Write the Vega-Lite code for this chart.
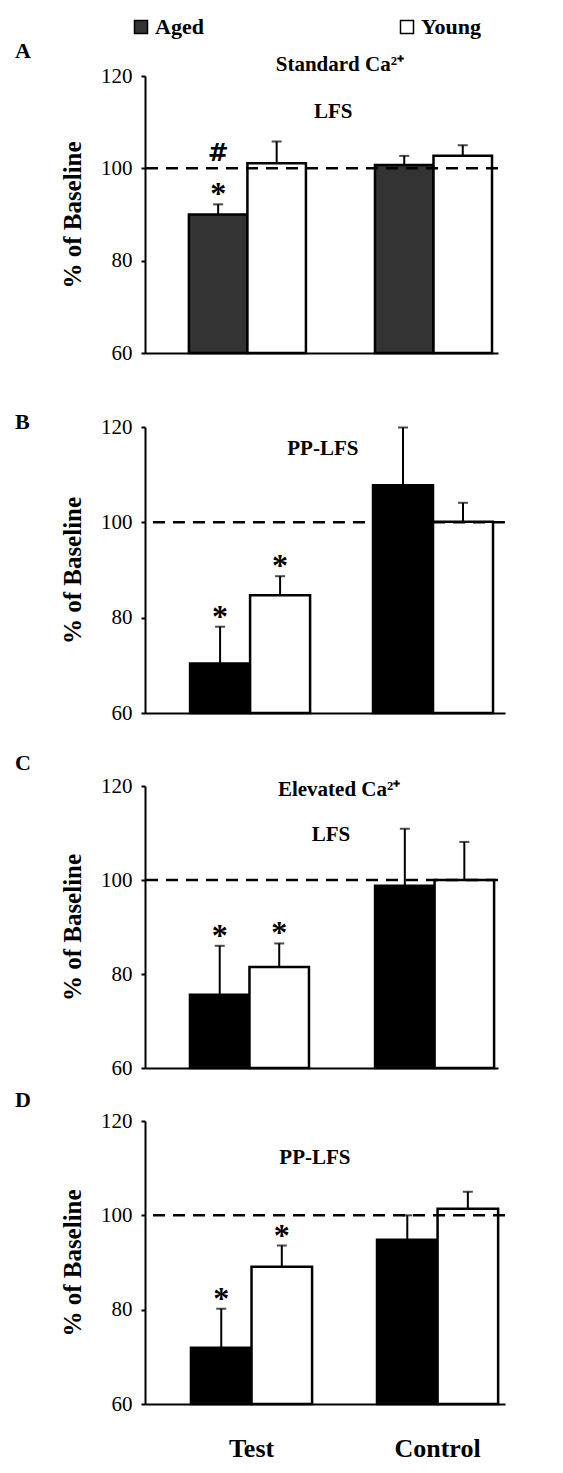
{
  "$schema": "https://vega.github.io/schema/vega-lite/v6.json",
  "background": "white",
  "padding": {"left": 15, "top": 16, "right": 5, "bottom": 5},
  "config": {
    "view": {"stroke": null},
    "font": "Liberation Serif",
    "axis": {"domainColor": "black", "domainWidth": 2, "tickColor": "black", "tickWidth": 2, "grid": false, "labelColor": "black", "titleColor": "black", "labelFont": "Liberation Serif", "titleFont": "Liberation Serif"},
    "axisY": {"tickSize": 4, "labelFontSize": 21, "labelPadding": 9, "titleFontSize": 25, "titleFontWeight": "bold", "titlePadding": 15, "labelFlush": false},
    "axisX": {"ticks": false, "tickSize": 0, "labelAngle": 0}
  },
  "datasets": {
    "A": [
      {"cond": "Test", "group": "Aged", "value": 90.0, "upper": 92.2, "sig": "*", "hash": "#"},
      {"cond": "Test", "group": "Young", "value": 101.1, "upper": 105.8},
      {"cond": "Control", "group": "Aged", "value": 100.7, "upper": 102.7},
      {"cond": "Control", "group": "Young", "value": 102.7, "upper": 105.0}
    ],
    "B": [
      {"cond": "Test", "group": "Aged", "value": 70.4, "upper": 78.1, "sig": "*"},
      {"cond": "Test", "group": "Young", "value": 84.7, "upper": 88.7, "sig": "*"},
      {"cond": "Control", "group": "Aged", "value": 107.8, "upper": 119.9},
      {"cond": "Control", "group": "Young", "value": 100.1, "upper": 104.1}
    ],
    "C": [
      {"cond": "Test", "group": "Aged", "value": 75.6, "upper": 86.0, "sig": "*"},
      {"cond": "Test", "group": "Young", "value": 81.5, "upper": 86.5, "sig": "*"},
      {"cond": "Control", "group": "Aged", "value": 98.8, "upper": 110.9},
      {"cond": "Control", "group": "Young", "value": 100.0, "upper": 108.1}
    ],
    "D": [
      {"cond": "Test", "group": "Aged", "value": 71.9, "upper": 80.2, "sig": "*"},
      {"cond": "Test", "group": "Young", "value": 89.1, "upper": 93.6, "sig": "*"},
      {"cond": "Control", "group": "Aged", "value": 94.8, "upper": 100.0},
      {"cond": "Control", "group": "Young", "value": 101.4, "upper": 105.0}
    ]
  },
  "spacing": 47,
  "resolve": {"scale": {"x": "independent", "y": "independent", "xOffset": "independent", "color": "independent"}, "legend": {"color": "independent"}},
  "vconcat": [
    {
      "width": 353, "height": 277,
      "data": {"name": "A"},
      "title": {"text": "A", "orient": "top", "anchor": "start", "frame": "group", "baseline": "alphabetic", "offset": -64, "dx": -130, "font": "Liberation Serif", "fontSize": 22, "fontWeight": "bold", "color": "black"},
      "resolve": {"scale": {"x": "independent"}},
      "layer": [
        {"layer": [
          {"mark": {"type": "bar", "stroke": "black", "strokeWidth": 2.5},
           "encoding": {
             "x": {"field": "cond", "type": "nominal", "sort": ["Test", "Control"], "scale": {"paddingInner": 0.371, "paddingOuter": 0.134, "align": 0.88}, "axis": {"title": null, "labels": false, "ticks": false}},
             "xOffset": {"field": "group", "type": "nominal", "sort": ["Aged", "Young"], "scale": {"paddingInner": 0, "paddingOuter": 0}},
             "y": {"field": "value", "type": "quantitative", "scale": {"domain": [60, 120], "nice": false, "zero": false}, "axis": {"values": [60, 80, 100, 120], "title": "% of Baseline", "labelFont": "Liberation Serif", "titleFont": "Liberation Serif", "labelFontSize": 21, "titleFontSize": 25, "titleFontWeight": "bold"}},
             "y2": {"datum": 60},
             "color": {"field": "group", "type": "nominal", "scale": {"domain": ["Aged", "Young"], "range": ["#333333", "#ffffff"]},
               "legend": {"orient": "none", "legendX": -15, "legendY": -60, "direction": "horizontal", "columns": 2, "columnPadding": 192, "title": null, "symbolType": "square", "symbolSize": 169, "symbolStrokeColor": "black", "symbolStrokeWidth": 1.5, "symbolOpacity": 1, "labelFont": "Liberation Serif", "labelFontSize": 22, "labelFontWeight": "bold", "labelColor": "black", "labelOffset": 3, "padding": 0, "offset": 0}}
           }},
          {"mark": {"type": "rule", "color": "black", "strokeWidth": 2},
           "encoding": {"x": {"field": "cond", "type": "nominal", "sort": ["Test", "Control"]}, "xOffset": {"field": "group", "type": "nominal", "sort": ["Aged", "Young"]}, "y": {"field": "value", "type": "quantitative"}, "y2": {"field": "upper"}}},
          {"mark": {"type": "tick", "color": "black", "thickness": 2, "size": 10, "orient": "horizontal"},
           "encoding": {"x": {"field": "cond", "type": "nominal", "sort": ["Test", "Control"]}, "xOffset": {"field": "group", "type": "nominal", "sort": ["Aged", "Young"]}, "y": {"field": "upper", "type": "quantitative"}}},
          {"data": {"values": [{}]}, "mark": {"type": "rule", "color": "black", "strokeWidth": 2.5, "strokeDash": [12, 8]},
           "encoding": {"y": {"datum": 100}}},
          {"transform": [{"filter": "datum.sig"}], "mark": {"type": "text", "font": "Liberation Serif", "fontSize": 32, "fontWeight": "bold", "color": "black", "baseline": "alphabetic", "align": "center", "dy": 0},
           "encoding": {"x": {"field": "cond", "type": "nominal", "sort": ["Test", "Control"]}, "xOffset": {"field": "group", "type": "nominal", "sort": ["Aged", "Young"]}, "y": {"field": "upper", "type": "quantitative"}, "text": {"field": "sig"}}},
          {"transform": [{"filter": "datum.hash"}], "mark": {"type": "text", "font": "DejaVu Sans", "fontSize": 25, "fontWeight": "bold", "color": "black", "baseline": "alphabetic", "align": "center", "dy": -43},
           "encoding": {"x": {"field": "cond", "type": "nominal", "sort": ["Test", "Control"]}, "xOffset": {"field": "group", "type": "nominal", "sort": ["Aged", "Young"]}, "y": {"field": "upper", "type": "quantitative"}, "text": {"field": "hash"}}}
        ]},
        {"data": {"values": [{}]}, "layer": [
          {"mark": {"type": "text", "text": "Standard Ca²⁺", "font": "Liberation Serif", "fontSize": 21, "fontWeight": "bold", "color": "black", "baseline": "middle", "align": "center"},
           "encoding": {"x": {"datum": 0.552, "type": "quantitative", "scale": {"domain": [0, 1], "nice": false, "zero": false}, "axis": null}, "y": {"datum": 122.4, "type": "quantitative"}}},
          {"mark": {"type": "text", "text": "LFS", "font": "Liberation Serif", "fontSize": 21, "fontWeight": "bold", "color": "black", "baseline": "middle", "align": "center"},
           "encoding": {"x": {"datum": 0.533, "type": "quantitative"}, "y": {"datum": 112.2, "type": "quantitative"}}}
        ]}
      ]
    },
    {
      "spacing": 28,
      "resolve": {"scale": {"x": "independent", "y": "independent", "xOffset": "independent", "color": "independent"}, "legend": {"color": "independent"}},
      "vconcat": [
        {
          "width": 360, "height": 286,
          "data": {"name": "B"},
          "title": {"text": "B", "orient": "top", "anchor": "start", "frame": "group", "baseline": "alphabetic", "offset": -34.5, "dx": -130, "font": "Liberation Serif", "fontSize": 22, "fontWeight": "bold", "color": "black"},
          "resolve": {"scale": {"x": "independent"}},
          "layer": [
            {"layer": [
              {"mark": {"type": "bar", "stroke": "black", "strokeWidth": 2.5},
               "encoding": {
                 "x": {"field": "cond", "type": "nominal", "sort": ["Test", "Control"], "scale": {"paddingInner": 0.344, "paddingOuter": 0.156, "align": 0.79}, "axis": {"title": null, "labels": false, "ticks": false}},
                 "xOffset": {"field": "group", "type": "nominal", "sort": ["Aged", "Young"], "scale": {"paddingInner": 0, "paddingOuter": 0}},
                 "y": {"field": "value", "type": "quantitative", "scale": {"domain": [60, 120], "nice": false, "zero": false}, "axis": {"values": [60, 80, 100, 120], "title": "% of Baseline", "labelFont": "Liberation Serif", "titleFont": "Liberation Serif", "labelFontSize": 21, "titleFontSize": 25, "titleFontWeight": "bold"}},
                 "y2": {"datum": 60},
                 "color": {"field": "group", "type": "nominal", "scale": {"domain": ["Aged", "Young"], "range": ["#000000", "#ffffff"]}, "legend": null}
               }},
              {"mark": {"type": "rule", "color": "black", "strokeWidth": 2},
               "encoding": {"x": {"field": "cond", "type": "nominal", "sort": ["Test", "Control"]}, "xOffset": {"field": "group", "type": "nominal", "sort": ["Aged", "Young"]}, "y": {"field": "value", "type": "quantitative"}, "y2": {"field": "upper"}}},
              {"mark": {"type": "tick", "color": "black", "thickness": 2, "size": 10, "orient": "horizontal"},
               "encoding": {"x": {"field": "cond", "type": "nominal", "sort": ["Test", "Control"]}, "xOffset": {"field": "group", "type": "nominal", "sort": ["Aged", "Young"]}, "y": {"field": "upper", "type": "quantitative"}}},
              {"data": {"values": [{}]}, "mark": {"type": "rule", "color": "black", "strokeWidth": 2.5, "strokeDash": [12, 8]},
               "encoding": {"y": {"datum": 100}}},
              {"transform": [{"filter": "datum.sig"}], "mark": {"type": "text", "font": "Liberation Serif", "fontSize": 32, "fontWeight": "bold", "color": "black", "baseline": "alphabetic", "align": "center", "dy": 0},
               "encoding": {"x": {"field": "cond", "type": "nominal", "sort": ["Test", "Control"]}, "xOffset": {"field": "group", "type": "nominal", "sort": ["Aged", "Young"]}, "y": {"field": "upper", "type": "quantitative"}, "text": {"field": "sig"}}}
            ]},
            {"data": {"values": [{}]}, "layer": [
              {"mark": {"type": "text", "text": "PP-LFS", "font": "Liberation Serif", "fontSize": 21, "fontWeight": "bold", "color": "black", "baseline": "middle", "align": "center"},
               "encoding": {"x": {"datum": 0.494, "type": "quantitative", "scale": {"domain": [0, 1], "nice": false, "zero": false}, "axis": null}, "y": {"datum": 115.4, "type": "quantitative"}}}
            ]}
          ]
        },
        {
          "spacing": 10,
          "resolve": {"scale": {"x": "independent", "y": "independent", "xOffset": "independent", "color": "independent"}, "legend": {"color": "independent"}},
          "vconcat": [
            {
              "width": 353, "height": 282,
              "data": {"name": "C"},
              "title": {"text": "C", "orient": "top", "anchor": "start", "frame": "group", "baseline": "alphabetic", "offset": -16.5, "dx": -130, "font": "Liberation Serif", "fontSize": 22, "fontWeight": "bold", "color": "black"},
              "resolve": {"scale": {"x": "independent"}},
              "layer": [
                {"layer": [
                  {"mark": {"type": "bar", "stroke": "black", "strokeWidth": 2.5},
                   "encoding": {
                     "x": {"field": "cond", "type": "nominal", "sort": ["Test", "Control"], "scale": {"paddingInner": 0.357, "paddingOuter": 0.132, "align": 0.92}, "axis": {"title": null, "labels": false, "ticks": false}},
                     "xOffset": {"field": "group", "type": "nominal", "sort": ["Aged", "Young"], "scale": {"paddingInner": 0, "paddingOuter": 0}},
                     "y": {"field": "value", "type": "quantitative", "scale": {"domain": [60, 120], "nice": false, "zero": false}, "axis": {"values": [60, 80, 100, 120], "title": "% of Baseline", "labelFont": "Liberation Serif", "titleFont": "Liberation Serif", "labelFontSize": 21, "titleFontSize": 25, "titleFontWeight": "bold"}},
                     "y2": {"datum": 60},
                     "color": {"field": "group", "type": "nominal", "scale": {"domain": ["Aged", "Young"], "range": ["#000000", "#ffffff"]}, "legend": null}
                   }},
                  {"mark": {"type": "rule", "color": "black", "strokeWidth": 2},
                   "encoding": {"x": {"field": "cond", "type": "nominal", "sort": ["Test", "Control"]}, "xOffset": {"field": "group", "type": "nominal", "sort": ["Aged", "Young"]}, "y": {"field": "value", "type": "quantitative"}, "y2": {"field": "upper"}}},
                  {"mark": {"type": "tick", "color": "black", "thickness": 2, "size": 10, "orient": "horizontal"},
                   "encoding": {"x": {"field": "cond", "type": "nominal", "sort": ["Test", "Control"]}, "xOffset": {"field": "group", "type": "nominal", "sort": ["Aged", "Young"]}, "y": {"field": "upper", "type": "quantitative"}}},
                  {"data": {"values": [{}]}, "mark": {"type": "rule", "color": "black", "strokeWidth": 2.5, "strokeDash": [12, 8]},
                   "encoding": {"y": {"datum": 100}}},
                  {"transform": [{"filter": "datum.sig"}], "mark": {"type": "text", "font": "Liberation Serif", "fontSize": 32, "fontWeight": "bold", "color": "black", "baseline": "alphabetic", "align": "center", "dy": 0},
                   "encoding": {"x": {"field": "cond", "type": "nominal", "sort": ["Test", "Control"]}, "xOffset": {"field": "group", "type": "nominal", "sort": ["Aged", "Young"]}, "y": {"field": "upper", "type": "quantitative"}, "text": {"field": "sig"}}}
                ]},
                {"data": {"values": [{}]}, "layer": [
                  {"mark": {"type": "text", "text": "Elevated Ca²⁺", "font": "Liberation Serif", "fontSize": 21, "fontWeight": "bold", "color": "black", "baseline": "middle", "align": "center"},
                   "encoding": {"x": {"datum": 0.55, "type": "quantitative", "scale": {"domain": [0, 1], "nice": false, "zero": false}, "axis": null}, "y": {"datum": 119.1, "type": "quantitative"}}},
                  {"mark": {"type": "text", "text": "LFS", "font": "Liberation Serif", "fontSize": 21, "fontWeight": "bold", "color": "black", "baseline": "middle", "align": "center"},
                   "encoding": {"x": {"datum": 0.527, "type": "quantitative"}, "y": {"datum": 109.6, "type": "quantitative"}}}
                ]}
              ]
            },
            {
              "width": 360, "height": 283,
              "data": {"name": "D"},
              "title": {"text": "D", "orient": "top", "anchor": "start", "frame": "group", "baseline": "alphabetic", "offset": -18.5, "dx": -130, "font": "Liberation Serif", "fontSize": 22, "fontWeight": "bold", "color": "black"},
              "resolve": {"scale": {"x": "independent"}},
              "layer": [
                {"layer": [
                  {"mark": {"type": "bar", "stroke": "black", "strokeWidth": 2.5},
                   "encoding": {
                     "x": {"field": "cond", "type": "nominal", "sort": ["Test", "Control"], "scale": {"paddingInner": 0.349, "paddingOuter": 0.142, "align": 0.87}, "axis": {"title": null, "labels": true, "ticks": false, "labelFont": "Liberation Serif", "labelFontSize": 26, "labelFontWeight": "bold", "labelColor": "black", "labelPadding": 44, "labelBaseline": "middle"}},
                     "xOffset": {"field": "group", "type": "nominal", "sort": ["Aged", "Young"], "scale": {"paddingInner": 0, "paddingOuter": 0}},
                     "y": {"field": "value", "type": "quantitative", "scale": {"domain": [60, 120], "nice": false, "zero": false}, "axis": {"values": [60, 80, 100, 120], "title": "% of Baseline", "labelFont": "Liberation Serif", "titleFont": "Liberation Serif", "labelFontSize": 21, "titleFontSize": 25, "titleFontWeight": "bold"}},
                     "y2": {"datum": 60},
                     "color": {"field": "group", "type": "nominal", "scale": {"domain": ["Aged", "Young"], "range": ["#000000", "#ffffff"]}, "legend": null}
                   }},
                  {"mark": {"type": "rule", "color": "black", "strokeWidth": 2},
                   "encoding": {"x": {"field": "cond", "type": "nominal", "sort": ["Test", "Control"]}, "xOffset": {"field": "group", "type": "nominal", "sort": ["Aged", "Young"]}, "y": {"field": "value", "type": "quantitative"}, "y2": {"field": "upper"}}},
                  {"mark": {"type": "tick", "color": "black", "thickness": 2, "size": 10, "orient": "horizontal"},
                   "encoding": {"x": {"field": "cond", "type": "nominal", "sort": ["Test", "Control"]}, "xOffset": {"field": "group", "type": "nominal", "sort": ["Aged", "Young"]}, "y": {"field": "upper", "type": "quantitative"}}},
                  {"data": {"values": [{}]}, "mark": {"type": "rule", "color": "black", "strokeWidth": 2.5, "strokeDash": [12, 8]},
                   "encoding": {"y": {"datum": 100}}},
                  {"transform": [{"filter": "datum.sig"}], "mark": {"type": "text", "font": "Liberation Serif", "fontSize": 32, "fontWeight": "bold", "color": "black", "baseline": "alphabetic", "align": "center", "dy": 0},
                   "encoding": {"x": {"field": "cond", "type": "nominal", "sort": ["Test", "Control"]}, "xOffset": {"field": "group", "type": "nominal", "sort": ["Aged", "Young"]}, "y": {"field": "upper", "type": "quantitative"}, "text": {"field": "sig"}}}
                ]},
                {"data": {"values": [{}]}, "layer": [
                  {"mark": {"type": "text", "text": "PP-LFS", "font": "Liberation Serif", "fontSize": 21, "fontWeight": "bold", "color": "black", "baseline": "middle", "align": "center"},
                   "encoding": {"x": {"datum": 0.472, "type": "quantitative", "scale": {"domain": [0, 1], "nice": false, "zero": false}, "axis": null}, "y": {"datum": 112.2, "type": "quantitative"}}}
                ]}
              ]
            }
          ]
        }
      ]
    }
  ]
}
